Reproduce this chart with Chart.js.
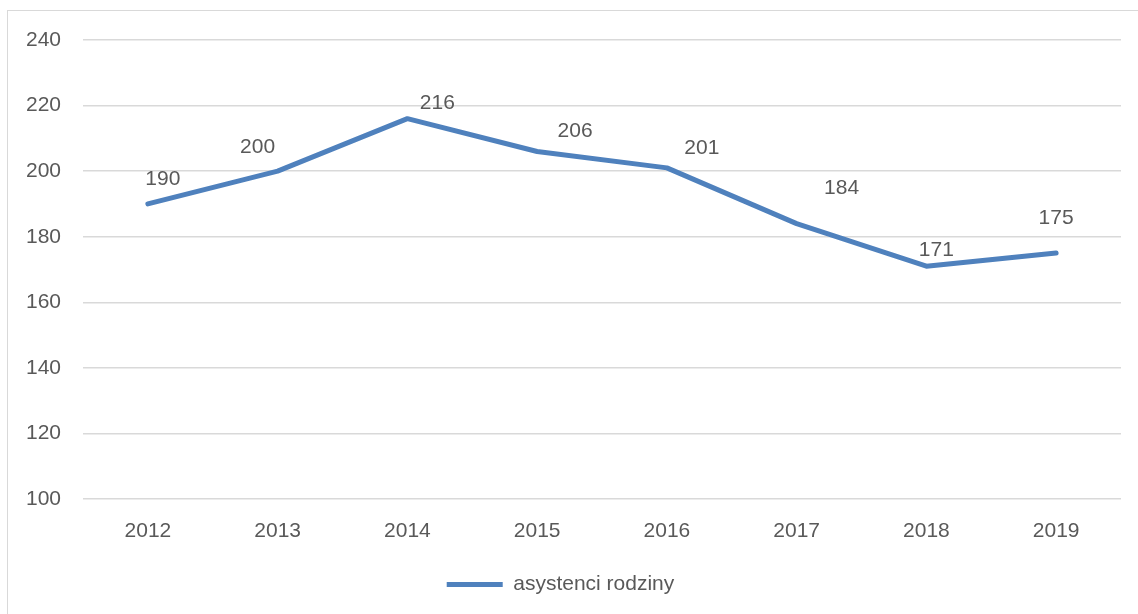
<!DOCTYPE html>
<html>
<head>
<meta charset="utf-8">
<script src="https://cdn.jsdelivr.net/npm/chart.js@4/dist/chart.umd.min.js"></script>
<style>
	html, body { margin: 0; padding: 0; background: #ffffff; }
	#wrap { position: relative; width: 1138px; height: 614px; overflow: hidden; }
	#frame { position: absolute; left: 7px; top: 10px; width: 1200px; height: 700px; border: 1px solid #d9d9d9; box-sizing: border-box; }
	canvas { position: absolute; left: 0; top: 0; }
</style>
</head>
<body>
<div id="wrap">
	<div id="frame"></div>
	<canvas id="line-chart" width="1138" height="614"></canvas>
</div>
<script>
const years = ["2012", "2013", "2014", "2015", "2016", "2017", "2018", "2019"];
const asystenci = [190, 200, 216, 206, 201, 184, 171, 175];
const seriesName = "asystenci rodziny";

// where each value label sits relative to its point (px), as placed in the original
const labelShift = [[15, -25], [-20, -24], [30, -15], [38, -20], [35, -20], [45, -35], [10, -16], [0, -35]];

const textColor = "#595959";
const fontFamily = "'Liberation Sans', Arial, sans-serif";

const valueLabels = {
	id: "valueLabels",
	afterDatasetsDraw(chart) {
		const ctx = chart.ctx;
		const meta = chart.getDatasetMeta(0);
		ctx.save();
		ctx.font = "21px " + fontFamily;
		ctx.fillStyle = textColor;
		ctx.textAlign = "center";
		ctx.textBaseline = "middle";
		meta.data.forEach((pt, i) => {
			const s = labelShift[i];
			ctx.fillText(String(asystenci[i]), pt.x + s[0], pt.y + s[1]);
		});
		ctx.restore();
	},
};

new Chart(document.getElementById("line-chart"), {
	type: "line",
	data: {
		labels: years,
		datasets: [
			{
				label: seriesName,
				data: asystenci,
				borderColor: "#4f81bd",
				backgroundColor: "#4f81bd",
				borderWidth: 5,
				borderCapStyle: "round",
				borderJoinStyle: "round",
				pointRadius: 0,
				tension: 0,
				fill: false,
			},
		],
	},
	options: {
		responsive: false,
		animation: false,
		layout: { padding: { top: 40, right: 17, bottom: 9, left: 0 } },
		scales: {
			x: {
				offset: true,
				grid: { display: false, drawTicks: false },
				border: { display: false },
				ticks: { color: textColor, font: { family: fontFamily, size: 21 }, padding: 20 },
				afterFit(axis) { axis.height = 65; },
			},
			y: {
				min: 100,
				max: 240,
				grid: { color: "#d9d9d9", lineWidth: 1.5, drawTicks: false },
				border: { display: false },
				ticks: { stepSize: 20, color: textColor, font: { family: fontFamily, size: 21 }, padding: 22 },
				afterFit(axis) { axis.width = 83; },
			},
		},
		plugins: {
			legend: {
				display: true,
				position: "bottom",
				labels: {
					usePointStyle: true,
					pointStyle: "line",
					pointStyleWidth: 56,
					boxWidth: 56,
					color: textColor,
					font: { family: fontFamily, size: 21 },
					padding: 10,
				},
			},
			tooltip: { enabled: false },
			title: { display: false },
		},
	},
	plugins: [valueLabels],
});
</script>
</body>
</html>
